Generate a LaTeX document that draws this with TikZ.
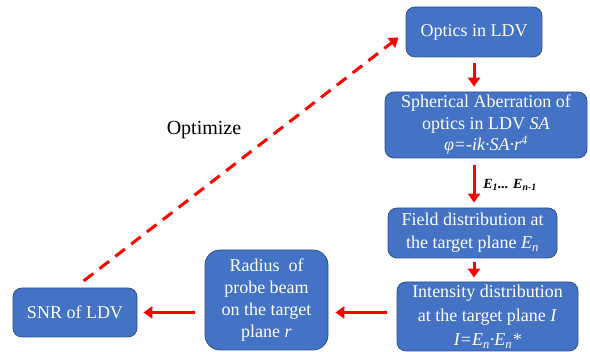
\documentclass[tikz,border=0pt]{standalone}
\usepackage{fontspec}
\setmainfont{Liberation Serif}
\usetikzlibrary{arrows.meta}
\definecolor{boxblue}{HTML}{4472C4}
\definecolor{boxedge}{HTML}{2F528F}
\definecolor{arrred}{HTML}{FF0000}
\tikzset{
 box/.style={rectangle, rounded corners=9pt, fill=boxblue, draw=boxedge, line width=0.8pt, text=white, align=center, font=\fontsize{18}{21.5}\selectfont, inner sep=0pt},
 flow/.style={draw=arrred, line width=3pt, -{Triangle[length=9pt,width=12pt]}},
}
\begin{document}
\begin{tikzpicture}[x=1pt,y=-1pt]
\useasboundingbox (0,0) rectangle (590,352);
\node[box, minimum width=136pt, minimum height=50pt] (optics) at (474,32) {Optics in LDV};
\node[box, minimum width=202pt, minimum height=66pt] (sph) at (486,125) {Spherical Aberration of\\optics in LDV \textit{SA}\\\textit{φ=-ik·SA·r}\textsuperscript{\textit{4}}};
\node[box, minimum width=169pt, minimum height=50pt, font=\fontsize{18}{23}\selectfont] (field) at (472.5,233) {Field distribution at\\the target plane \textit{E\textsubscript{n}}};
\node[box, minimum width=181pt, minimum height=69pt, font=\fontsize{18}{24}\selectfont] (inten) at (487.5,316.5) {Intensity distribution\\at the target plane \textit{I}\\\textit{I=E\textsubscript{n}·E\textsubscript{n}*}};
\node[box, rounded corners=15pt, minimum width=123pt, minimum height=100pt, font=\fontsize{18}{22}\selectfont] (radius) at (266.5,300) {Radius~ of\\probe beam\\on the target\\plane \textit{r}};
\node[box, minimum width=124pt, minimum height=49pt] (snr) at (75,312.5) {SNR of LDV};
\node[font=\fontsize{14}{16}\selectfont\bfseries\itshape, inner sep=0pt] (elab) at (510,185) {E\textsubscript{1}... E\textsubscript{n-1}};
\node[font=\fontsize{20}{24}\selectfont, inner sep=0pt] (opt) at (204,130) {Optimize};
\draw[flow, shorten <=6pt, shorten >=5pt] (optics.south) -- (optics.south |- sph.north);
\draw[flow, shorten <=7pt, shorten >=5pt] (optics.south |- sph.south) -- (optics.south |- field.north);
\draw[flow, shorten <=4pt, shorten >=4pt] (optics.south |- field.south) -- (optics.south |- inten.north);
\draw[flow, shorten <=10pt, shorten >=7pt] (inten.west |- snr.east) -- (radius.east |- snr.east);
\draw[flow, shorten <=10pt, shorten >=6pt] (radius.west |- snr.east) -- (snr.east);
\draw[flow, dash pattern=on 12pt off 8pt, shorten <=11pt, shorten >=9pt] (snr.north) -- (optics.west);
\end{tikzpicture}
\end{document}
